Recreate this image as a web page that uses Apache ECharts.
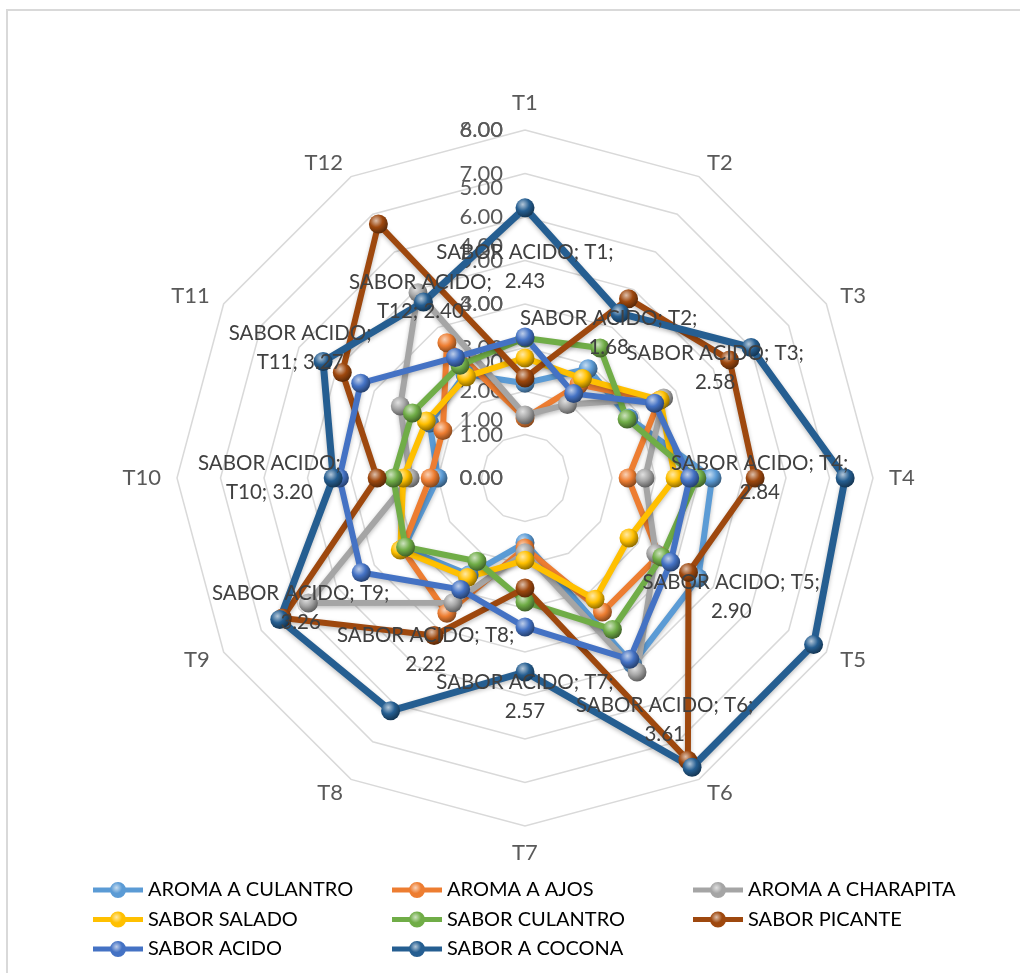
<!DOCTYPE html>
<html>
<head>
<meta charset="utf-8">
<script src="https://cdn.jsdelivr.net/npm/echarts@6/dist/echarts.min.js"></script>
<style>
  html, body { margin: 0; padding: 0; background: #fff; }
  #chart { width: 1020px; height: 973px; }
</style>
</head>
<body>
<div id="chart"></div>
<script>
  // ejes T1..T12 (sentido horario desde arriba, como en Excel)
  const categories = ['T1', 'T2', 'T3', 'T4', 'T5', 'T6', 'T7', 'T8', 'T9', 'T10', 'T11', 'T12'];
  const primaryMax = 8;    // eje principal 0.00 - 8.00
  const secondaryMax = 6;  // eje secundario 0.00 - 6.00 (SABOR ACIDO)

  const aromaCulantro  = [2.18, 2.90, 2.76, 4.30, 4.60, 4.94, 1.49, 2.57, 3.22, 2.00, 2.53, 2.76];
  const aromaAjos      = [1.38, 2.48, 3.56, 2.37, 3.56, 3.56, 1.61, 3.59, 3.26, 2.18, 2.18, 3.59];
  const aromaCharapita = [1.45, 1.95, 3.68, 2.76, 3.47, 5.15, 1.72, 3.31, 5.75, 2.64, 3.31, 4.92];
  const saborSalado    = [2.76, 2.64, 3.59, 3.45, 2.76, 3.22, 1.89, 2.64, 3.31, 2.80, 2.62, 2.69];
  const saborCulantro  = [3.22, 3.45, 2.71, 3.95, 3.63, 4.02, 2.85, 2.21, 3.17, 3.03, 2.99, 2.99];
  const saborPicante   = [2.30, 4.76, 5.43, 5.29, 4.34, 7.49, 2.53, 4.18, 6.44, 3.40, 4.85, 6.74];
  const saborAcido     = [2.43, 1.68, 2.58, 2.84, 2.90, 3.61, 2.57, 2.22, 3.26, 3.20, 3.27, 2.40];
  const saborCocona    = [6.21, 4.37, 6.00, 7.36, 7.66, 7.68, 4.46, 6.18, 6.51, 4.41, 5.36, 4.67];

  const font = 'Lato, sans-serif';
  const cx = 525, cy = 478, R = 348;

  // echarts dibuja el radar en sentido antihorario: invertimos el orden
  const order = [0, 11, 10, 9, 8, 7, 6, 5, 4, 3, 2, 1];
  const reorder = arr => order.map(i => arr[i]);

  function mix(hex, target, t) {
    const n = parseInt(hex.slice(1), 16);
    const c = [(n >> 16) & 255, (n >> 8) & 255, n & 255].map(v => Math.round(v + (target - v) * t));
    return 'rgb(' + c.join(',') + ')';
  }
  function ball(c) {
    return { type: 'radial', x: 0.38, y: 0.32, r: 0.7, colorStops: [
      { offset: 0, color: mix(c, 255, 0.65) },
      { offset: 0.5, color: c },
      { offset: 1, color: mix(c, 0, 0.45) }
    ] };
  }
  function legendBall(c) {
    return { type: 'radial', x: 0.47, y: 0.36, r: 0.5, colorStops: [
      { offset: 0, color: mix(c, 255, 0.65) },
      { offset: 0.7, color: c },
      { offset: 1, color: c }
    ] };
  }

  const defs = [
    { name: 'AROMA A CULANTRO', values: aromaCulantro, color: '#5B9BD5', radar: 0 },
    { name: 'AROMA A AJOS', values: aromaAjos, color: '#ED7D31', radar: 0 },
    { name: 'AROMA A CHARAPITA', values: aromaCharapita, color: '#A5A5A5', radar: 0 },
    { name: 'SABOR SALADO', values: saborSalado, color: '#FFC000', radar: 0 },
    { name: 'SABOR CULANTRO', values: saborCulantro, color: '#70AD47', radar: 0 },
    { name: 'SABOR PICANTE', values: saborPicante, color: '#9E480E', radar: 0 },
    { name: 'SABOR ACIDO', values: saborAcido, color: '#4472C4', radar: 1 },
    { name: 'SABOR A COCONA', values: saborCocona, color: '#255E91', radar: 0 }
  ];

  const acidoLabel = {
    show: true,
    position: 'inside',
    color: '#404040',
    fontSize: 20.5,
    lineHeight: 29,
    fontFamily: font,
    formatter: p => {
      const i = saborAcido.indexOf(p.value);
      const t = categories[i];
      const v = p.value.toFixed(2);
      return t.length > 2 ? 'SABOR ACIDO;\n' + t + '; ' + v : 'SABOR ACIDO; ' + t + ';\n' + v;
    }
  };

  const legendIcon = 'path://M0,5.5H50V10.5H0Z M17,8A8,8 0 1,1 33,8A8,8 0 1,1 17,8Z';
  const legendItem = name => {
    const d = defs.find(s => s.name === name);
    return { name: name, icon: legendIcon, itemStyle: { color: legendBall(d.color) } };
  };
  const legendBase = {
    orient: 'vertical', top: 875, itemWidth: 50, itemHeight: 16, itemGap: 9.5,
    selectedMode: false,
    textStyle: { color: '#000', fontSize: 20, fontFamily: font }
  };

  const radarBase = {
    center: [cx, cy], radius: R, startAngle: 90, shape: 'polygon',
    splitArea: { show: false }, axisLine: { show: false }, axisTick: { show: false },
    axisLabel: { show: false, color: '#595959', fontSize: 22, fontFamily: font, margin: 22,
      formatter: v => Number(v).toFixed(2) }
  };

  const chart = echarts.init(document.getElementById('chart'));
  chart.setOption({
    animation: false,
    backgroundColor: '#fff',
    graphic: [{
      type: 'rect', shape: { x: 7, y: 10, width: 1100, height: 1100 },
      style: { fill: 'none', stroke: '#D9D9D9', lineWidth: 2 }, silent: true
    }],
    legend: [
      Object.assign({ left: 88, data: ['AROMA A CULANTRO', 'SABOR SALADO', 'SABOR ACIDO'].map(legendItem) }, legendBase),
      Object.assign({ left: 387, data: ['AROMA A AJOS', 'SABOR CULANTRO', 'SABOR A COCONA'].map(legendItem) }, legendBase),
      Object.assign({ left: 688, data: ['AROMA A CHARAPITA', 'SABOR PICANTE'].map(legendItem) }, legendBase)
    ],
    radar: [
      Object.assign({}, radarBase, {
        splitNumber: primaryMax,
        indicator: order.map((i, k) => ({ name: categories[i], min: 0, max: primaryMax, axisLabel: { show: k === 0 } })),
        axisName: { color: '#595959', fontSize: 22, fontFamily: font },
        nameGap: 16,
        splitLine: { lineStyle: { color: '#D9D9D9', width: 1.5 } }
      }),
      Object.assign({}, radarBase, {
        splitNumber: secondaryMax,
        indicator: order.map((i, k) => ({ name: categories[i], min: 0, max: secondaryMax, axisLabel: { show: k === 0 } })),
        axisName: { show: false },
        splitLine: { show: false }
      })
    ],
    series: defs.map(d => ({
      type: 'radar',
      radarIndex: d.radar,
      name: d.name,
      symbol: 'circle',
      symbolSize: 19,
      lineStyle: { color: d.color, width: d.name === 'SABOR A COCONA' ? 7 : 6,
        shadowBlur: 4, shadowColor: 'rgba(0,0,0,0.25)', shadowOffsetY: 2 },
      itemStyle: { color: ball(d.color) },
      label: d.name === 'SABOR ACIDO' ? acidoLabel : { show: false },
      labelLayout: d.name === 'SABOR ACIDO' ? (p => {
        const px = p.rect.x + p.rect.width / 2, py = p.rect.y + p.rect.height / 2;
        const len = Math.hypot(px - cx, py - cy) || 1;
        return { dx: (px - cx) / len * 70, dy: (py - cy) / len * 70 };
      }) : undefined,
      emphasis: { disabled: true },
      data: [{ name: d.name, value: reorder(d.values) }]
    }))
  });
</script>
</body>
</html>
